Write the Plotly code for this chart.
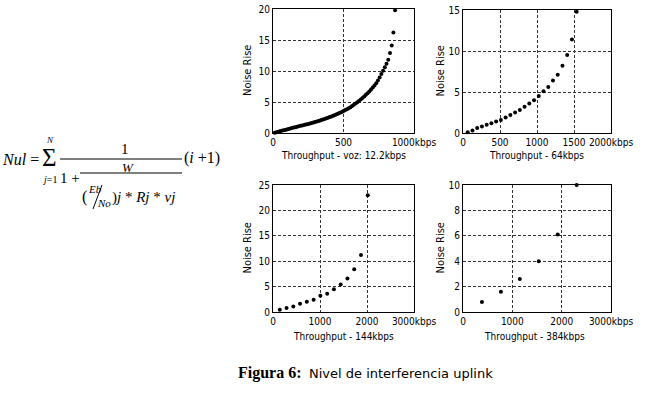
import plotly.graph_objects as go

W, H = 653, 393

# ---------------- data ----------------
# Voice 12.2 kbps (x = users * 12.2 kbps)
voz_step = 12.2
voz_noise = [0.05, 0.12, 0.2, 0.28, 0.35, 0.43, 0.5, 0.58, 0.66, 0.74,
             0.8, 0.87, 0.94, 1.01, 1.08, 1.15, 1.22, 1.29, 1.36, 1.43,
             1.5, 1.58, 1.66, 1.74, 1.82, 1.9, 1.99, 2.08, 2.17, 2.27,
             2.37, 2.47, 2.57, 2.68, 2.79, 2.9, 3.02, 3.14, 3.27, 3.4,
             3.54, 3.69, 3.84, 4.0, 4.17, 4.35, 4.54, 4.74, 4.95, 5.17,
             5.4, 5.64, 5.89, 6.15, 6.42, 6.7, 7.0, 7.32, 7.66, 8.02,
             8.45, 8.95, 9.5, 10.05, 10.6, 11.15, 11.8, 12.9, 14.1, 16.2, 19.8]
voz_x = [round(voz_step * (i + 1), 1) for i in range(len(voz_noise))]

d64_x = [64, 128, 192, 256, 320, 384, 448, 512, 576, 640, 704, 768,
         832, 896, 960, 1024, 1088, 1152, 1216, 1280, 1344, 1408, 1472, 1536]
d64_noise = [0.1, 0.3, 0.6, 0.8, 1.0, 1.2, 1.4, 1.6, 1.9, 2.2, 2.5, 2.8,
             3.2, 3.6, 4.0, 4.5, 5.1, 5.6, 6.4, 7.1, 8.2, 9.5, 11.4, 14.8]

d144_x = [144, 288, 432, 576, 720, 864, 1008, 1152, 1296, 1440, 1584, 1728, 1872, 2016]
d144_noise = [0.45, 0.8, 1.1, 1.6, 2.0, 2.4, 3.2, 3.6, 4.5, 5.4, 6.6, 8.4, 11.2, 23.0]

d384_x = [384, 768, 1152, 1536, 1920, 2304]
d384_noise = [0.78, 1.6, 2.6, 4.0, 6.1, 10.0]

xlabels = ["Throughput - voz: 12.2kbps", "Throughput - 64kbps",
           "Throughput - 144kbps", "Throughput - 384kbps"]
ylabel = "Noise Rise"

x_tickvals = [[0, 500, 1000], [0, 500, 1000, 1500, 2000],
              [0, 1000, 2000, 3000], [0, 1000, 2000, 3000]]
x_ticktext = [["0", "500", "1000kbps"], ["0", "500", "1000", "1500", "2000kbps"],
              ["0", "1000", "2000", "3000kbps"], ["0", "1000", "2000", "3000kbps"]]
y_tickvals = [[0, 5, 10, 15, 20], [0, 5, 10, 15],
              [0, 5, 10, 15, 20, 25], [0, 2, 4, 6, 8, 10]]
x_ranges = [[0, 1000], [0, 2000], [0, 3000], [0, 3000]]
y_ranges = [[0, 20], [0, 15], [0, 25], [0, 10]]

series = [(voz_x, voz_noise), (d64_x, d64_noise), (d144_x, d144_noise), (d384_x, d384_noise)]

# ---------------- layout helpers (pixels -> paper) ----------------
def px(x):
    return x / W

def py(y):
    return 1 - y / H

# plot boxes in pixels: (left, right, top, bottom)
boxes = [(273, 414, 9, 133), (463, 611, 10, 133),
         (273, 414, 185, 312), (463, 611, 185, 312)]
xtitle_pos = [(343, 155), (536, 155), (343, 336), (534, 336)]
ytitle_x = [247, 440, 247, 440]

SANS = "Liberation Sans Narrow, DejaVu Sans Condensed, Arial Narrow, sans-serif"
TICKFONT = dict(family=SANS, size=10, color="black")
YTITLEFONT = dict(family=SANS, size=11, color="black")

fig = go.Figure()
layout = dict(width=W, height=H, margin=dict(l=0, r=0, t=0, b=0, pad=0, autoexpand=False),
              paper_bgcolor="white", plot_bgcolor="white", showlegend=False,
              hovermode=False)

annotations = []
for i, (xs, ys) in enumerate(series):
    n = i + 1
    xa = "x" if n == 1 else f"x{n}"
    ya = "y" if n == 1 else f"y{n}"
    fig.add_trace(go.Scatter(x=xs, y=ys, mode="markers", xaxis=xa, yaxis=ya,
                             marker=dict(color="black", size=4, line=dict(width=0)),
                             cliponaxis=False))
    l, r, t, b = boxes[i]
    common = dict(showline=True, mirror=True, linecolor="black", linewidth=1,
                  showgrid=True, gridcolor="#333", gridwidth=1, griddash="3px,2px",
                  zeroline=False, ticks="", tickfont=TICKFONT, automargin=False,
                  tickangle=0)
    layout["xaxis" if n == 1 else f"xaxis{n}"] = dict(
        domain=[px(l), px(r)], anchor=ya, range=x_ranges[i],
        tickmode="array", tickvals=x_tickvals[i], ticktext=x_ticktext[i], **common)
    layout["yaxis" if n == 1 else f"yaxis{n}"] = dict(
        domain=[py(b), py(t)], anchor=xa, range=y_ranges[i],
        tickmode="array", tickvals=y_tickvals[i], **common)
    annotations.append(dict(text=xlabels[i], x=px(xtitle_pos[i][0]), y=py(xtitle_pos[i][1]),
                            xref="paper", yref="paper", showarrow=False,
                            xanchor="center", yanchor="middle", font=TICKFONT))
    annotations.append(dict(text=ylabel, x=px(ytitle_x[i]), y=py((t + b) / 2),
                            xref="paper", yref="paper", showarrow=False, textangle=-90,
                            xanchor="center", yanchor="middle", font=YTITLEFONT))

# ---------------- formula ----------------
SERIF = "Liberation Serif, DejaVu Serif, serif"

def txt(text, x, y, size, anchor="center"):
    annotations.append(dict(text=text, x=px(x), y=py(y), xref="paper", yref="paper",
                            showarrow=False, xanchor=anchor, yanchor="middle",
                            borderpad=0, font=dict(family=SERIF, size=size, color="black")))

txt("<i>Nul</i> =", 1, 159, 16, "left")
txt("Σ", 49, 158, 25)
txt("<i>N</i>", 50, 140, 9)
txt("<i>j</i>=1", 49, 179, 10)
txt("1", 125, 149, 15)
txt("(<i>i</i> +1)", 183, 158, 16, "left")
txt("1 +", 70, 178, 15)
txt("<i>W</i>", 128, 167, 13)
txt("(", 84, 197, 16)
txt("<i>Eb</i>", 95, 189, 11)
txt("<i>No</i>", 104, 203, 11)
txt(")<i>j</i> * <i>Rj</i> * <i>vj</i>", 111, 197, 15, "left")

shapes = [
    dict(type="line", xref="paper", yref="paper", x0=px(60), x1=px(182), y0=py(159), y1=py(159),
         line=dict(color="black", width=1)),
    dict(type="line", xref="paper", yref="paper", x0=px(80), x1=px(182), y0=py(173), y1=py(173),
         line=dict(color="black", width=1)),
    dict(type="line", xref="paper", yref="paper", x0=px(102), x1=px(93), y0=py(185), y1=py(209),
         line=dict(color="black", width=1)),
]

# ---------------- caption ----------------
annotations.append(dict(text="<b>Figura 6:</b>", x=px(304), y=py(373), xref="paper", yref="paper",
                        showarrow=False, xanchor="right", yanchor="middle",
                        font=dict(family=SERIF, size=16, color="black")))
annotations.append(dict(text="Nivel de interferencia uplink", x=px(307), y=py(373),
                        xref="paper", yref="paper", showarrow=False, xanchor="left",
                        yanchor="middle", font=dict(family="DejaVu Sans, sans-serif", size=13,
                                                    color="black")))

layout["annotations"] = annotations
layout["shapes"] = shapes
fig.update_layout(**layout)
fig.write_html("out.html", config={"displayModeBar": False, "staticPlot": True},
               post_script="document.body.style.margin='0';")
